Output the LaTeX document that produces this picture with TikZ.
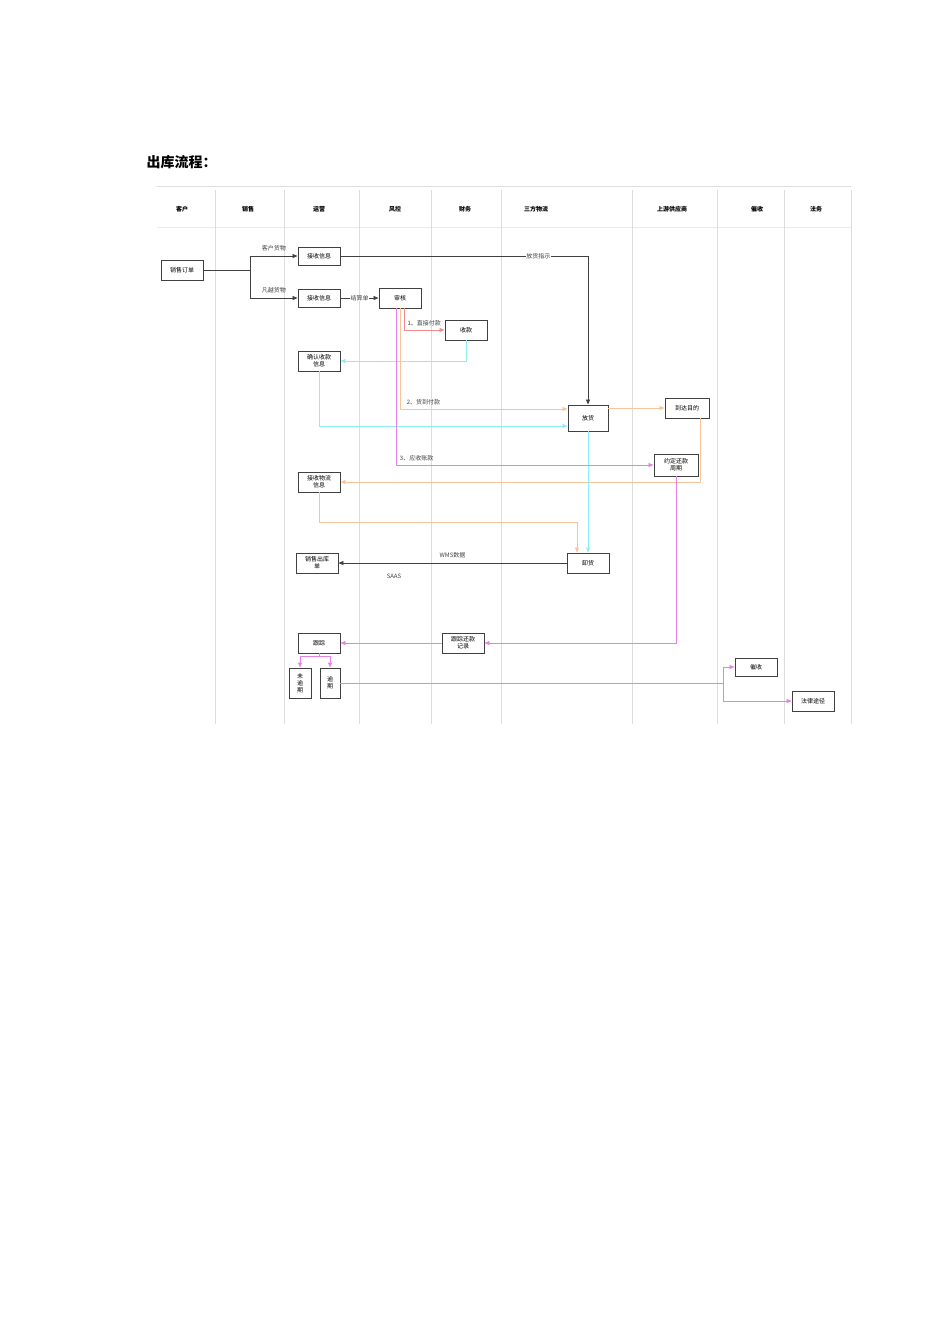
\documentclass[tikz,border=0pt]{standalone}
\usepackage{fontspec}
\setmainfont{Noto Sans CJK SC}
\usetikzlibrary{arrows.meta}
\definecolor{cred}{HTML}{F08C8C}
\definecolor{corg}{HTML}{F7C59A}
\definecolor{ccyn}{HTML}{8CEEF2}
\definecolor{cmag}{HTML}{E880E8}
\definecolor{cgrid}{HTML}{DDDDDD}
\begin{document}
\begin{tikzpicture}[x=1pt,y=-1pt,
  box/.style={draw=black!75,line width=0.9pt,fill=white,minimum width=42pt,minimum height=20pt,inner sep=1pt,font=\fontsize{6}{7}\selectfont,align=center},
  hd/.style={font=\fontsize{6}{7}\selectfont\bfseries},
  lb/.style={font=\fontsize{6}{7}\selectfont,text=black!75},
  ar/.style={-{Triangle[length=5pt,width=4pt]},line width=0.8pt},
  lane/.style={cgrid,line width=0.7pt}]
\useasboundingbox (0,0) rectangle (950,1344);
\node[font=\fontsize{14}{16}\selectfont\bfseries,anchor=west] (title) at (143,162) {出库流程：};
\draw[cgrid,line width=1pt] (157,186) -- (851,186);
\draw[cgrid!60,line width=0.6pt] (157,227) -- (851,227);
\foreach \x in {215,284,359,431,501,632,717,784,851} \draw[lane] (\x,190) -- (\x,724);
\node[hd] (h1) at (182,209) {客户};
\node[hd] (h2) at (248,209) {销售};
\node[hd] (h3) at (319,209) {运营};
\node[hd] (h4) at (395,209) {风控};
\node[hd] (h5) at (465,209) {财务};
\node[hd] (h6) at (536,209) {三方物流};
\node[hd] (h7) at (672,209) {上游供应商};
\node[hd] (h8) at (757,209) {催收};
\node[hd] (h9) at (816,209) {法务};

\node[box] (order) at (182,270) {销售订单};
\node[box,minimum height=18pt] (r1) at (319,256) {接收信息};
\node[box,minimum height=18pt] (r2) at (319,298) {接收信息};
\node[box] (audit) at (400,298) {审核};
\node[box] (recv) at (466,330) {收款};
\node[box] (conf) at (319,361) {确认收款\\信息};
\node[box,minimum width=40pt,minimum height=26pt] (rel) at (588,418) {放货};
\node[box,minimum width=44pt] (arr) at (687,408) {到达目的};
\node[box,minimum width=44pt,minimum height=22pt] (cyc) at (676,465) {约定还款\\周期};
\node[box] (logi) at (319,482) {接收物流\\信息};
\node[box] (out) at (317,563) {销售出库\\单};
\node[box,minimum width=42pt] (unl) at (588,563) {卸货};
\node[box] (trk) at (319,643) {跟踪};
\node[box] (trec) at (463,643) {跟踪还款\\记录};
\node[box,minimum width=22pt,minimum height=30pt] (nod) at (300,683) {未\\逾\\期};
\node[box,minimum width=20pt,minimum height=30pt] (od) at (330,683) {逾\\期};
\node[box,minimum height=18pt] (col) at (756,667) {催收};
\node[box] (law) at (813,701) {法律途径};

\coordinate (sp) at (250,270);
\draw[line width=0.8pt,black!75] (order.east) -- (sp);
\draw[ar,black!75] (sp) |- (r1.west) node[lb,pos=0.75,above=1pt] {客户货物};
\draw[ar,black!75] (sp) |- (r2.west) node[lb,pos=0.75,above=1pt] {凡越货物};
\draw[ar,black!75] (r2) -- (audit) node[lb,midway,fill=white,inner sep=0.5pt] {结算单};
\draw[ar,black!75] (r1.east) -| (rel.north) node[lb,pos=0.4,fill=white,inner sep=0.5pt] {放货指示};

\draw[ar,cred] (audit.south -| 404,0) |- (recv.west) node[lb,pos=0.75,above=0pt] {1、直接付款};
\draw[ar,ccyn] (recv.south) |- (conf.east);
\draw[ar,ccyn] (conf.south) |- (rel.west |- 0,426);
\draw[ar,corg] (audit.south) |- (rel.west |- 0,409) node[lb,pos=0.57,above=0pt] {2、货到付款};
\draw[ar,corg] (rel.east |- 0,408) -- (arr.west);
\draw[ar,corg] (arr.south -| 700,0) |- (logi.east);
\draw[ar,corg] (logi.south) |- (577,522) -- (unl.north -| 577,0);
\draw[ar,ccyn] (rel.south) -- (unl.north);
\draw[ar,cmag] (audit.south -| 396,0) |- (cyc.west) node[lb,pos=0.54,above=0pt] {3、应收账款};
\draw[ar,black!75] (unl.west) -- (out.east) node[lb,pos=0.5,above=1pt] {WMS数据};
\node[lb] (saas) at (394,576) {SAAS};
\draw[ar,cmag] (cyc.south) |- (trec.east);
\draw[ar,cmag] (trec.west) -- (trk.east);
\coordinate (ts) at (319,656);
\draw[cmag,line width=0.8pt] (trk.south) -- (ts);
\draw[ar,cmag] (ts) -| (nod.north);
\draw[ar,cmag] (ts) -| (od.north);
\coordinate (br) at (723,683);
\draw[cmag,line width=0.8pt] (od.east) -- (br);
\draw[ar,cmag] (br) |- (col.west);
\draw[ar,cmag] (br) |- (law.west);
\end{tikzpicture}
\end{document}
